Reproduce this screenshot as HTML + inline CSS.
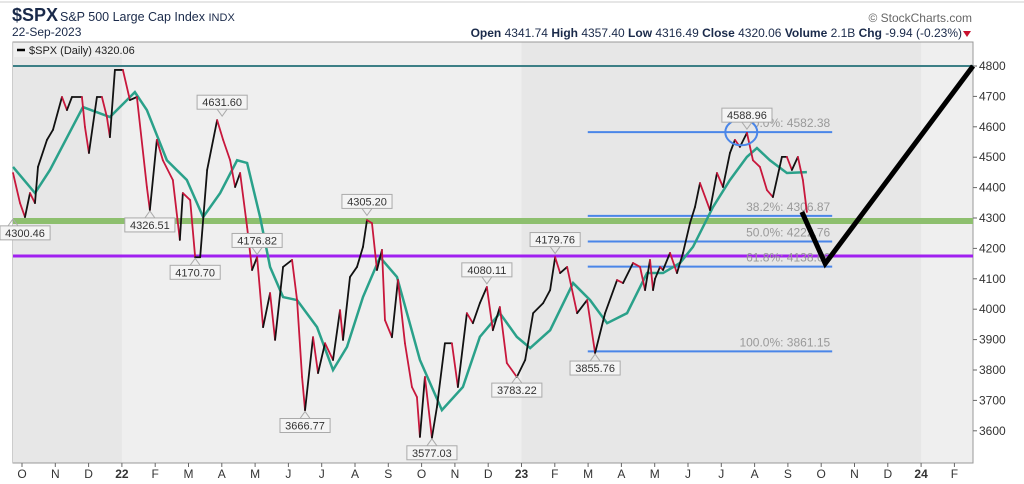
<!DOCTYPE html>
<html><head><meta charset="utf-8"><style>
html,body{margin:0;padding:0;background:#fff;width:1024px;height:484px;overflow:hidden}
svg{display:block;font-family:"Liberation Sans",sans-serif}
</style></head><body>
<svg id="c" width="1024" height="484">
<rect x="0" y="0" width="1024" height="484" fill="#fff"/>
<line x1="0" y1="2" x2="1024" y2="2" stroke="#ccc"/>
<text x="12" y="21" font-size="18" font-weight="bold" fill="#1a2a4a">$SPX</text>
<text x="60" y="21" font-size="12.5" fill="#1a2a4a">S&amp;P 500 Large Cap Index <tspan font-size="11">INDX</tspan></text>
<text x="12" y="36" font-size="12" fill="#1a2a4a">22-Sep-2023</text>
<text x="972" y="22" font-size="12" fill="#666" text-anchor="end">© StockCharts.com</text>
<text x="962" y="37" font-size="12" fill="#1a2a4a" text-anchor="end"><tspan font-weight="bold">Open</tspan> 4341.74 <tspan font-weight="bold">High</tspan> 4357.40 <tspan font-weight="bold">Low</tspan> 4316.49 <tspan font-weight="bold">Close</tspan> 4320.06 <tspan font-weight="bold">Volume</tspan> 2.1B <tspan font-weight="bold">Chg</tspan> -9.94 (-0.23%)</text>
<path d="M963 31 L971 31 L967 37 Z" fill="#c8102e"/>
<g id="plot"></g>
</svg>
<script>
const monthLabels=["O","N","D","22","F","M","A","M","J","J","A","S","O","N","D","23","F","M","A","M","J","J","A","S","O","N","D","24","F"];
const yTicks=[3600,3700,3800,3900,4000,4100,4200,4300,4400,4500,4600,4700,4800];
const priceMonths=[-0.27,-0.06,0.09,0.24,0.39,0.48,0.75,0.93,1.20,1.35,1.50,1.80,1.89,2.01,2.25,2.40,2.55,2.64,2.79,3.03,3.24,3.45,3.75,3.84,4.05,4.23,4.53,4.74,4.83,5.05,5.20,5.35,5.56,5.86,6.04,6.25,6.40,6.55,6.76,6.91,7.06,7.24,7.45,7.60,7.84,8.11,8.26,8.41,8.50,8.74,8.89,9.10,9.34,9.55,9.64,9.85,10.06,10.24,10.36,10.51,10.66,10.81,10.90,11.11,11.29,11.50,11.71,11.86,11.95,12.10,12.31,12.46,12.70,12.91,13.09,13.36,13.54,13.75,13.96,14.14,14.35,14.56,14.86,15.11,15.35,15.65,15.86,16.01,16.16,16.37,16.67,16.97,17.21,17.51,17.87,18.05,18.35,18.56,18.71,18.86,18.95,19.01,19.16,19.25,19.46,19.67,19.85,20.06,20.21,20.36,20.66,20.87,21.05,21.26,21.41,21.56,21.77,21.95,22.16,22.37,22.55,22.82,22.97,23.12,23.30,23.45,23.57];
const priceCloses=[4448,4349,4303,4382,4349,4468,4557,4590,4698,4655,4698,4698,4600,4514,4698,4698,4632,4566,4787,4787,4688,4698,4402,4326,4557,4490,4425,4228,4382,4359,4171,4171,4458,4622,4557,4490,4402,4448,4270,4129,4171,3941,4053,3899,4139,4162,4030,3777,3668,3908,3790,3888,3833,3997,3899,4106,4139,4205,4293,4283,4129,4195,3964,3908,4096,3888,3744,3711,3580,3777,3577,3678,3888,3888,3744,3987,3954,4020,4073,3931,4007,3823,3777,3833,3987,4020,4063,4171,4119,4139,3987,4030,3856,3987,4096,4086,4152,4139,4063,4162,4063,4100,4139,4129,4185,4119,4185,4283,4336,4415,4326,4448,4402,4514,4557,4534,4580,4490,4468,4392,4369,4501,4501,4458,4501,4425,4320];
const maMonths=[-0.27,0.39,0.84,1.83,2.64,3.39,3.75,4.35,4.95,5.44,5.95,6.46,6.76,7.15,7.45,7.84,8.26,8.86,9.34,9.76,10.24,10.75,11.26,11.95,12.61,13.24,13.75,14.35,14.86,15.26,15.86,16.55,17.06,17.57,18.17,18.77,19.25,19.76,20.15,20.75,21.26,21.77,22.07,22.46,22.97,23.57];
const maValues=[4468,4382,4458,4665,4632,4714,4655,4490,4425,4303,4382,4490,4481,4303,4139,4040,4030,3941,3800,3876,4040,4171,4106,3833,3668,3744,3909,3987,3909,3872,3931,4086,4030,3954,3987,4119,4119,4152,4205,4336,4425,4501,4530,4490,4448,4451];
const labelMonths=[-0.27,3.84,5.20,6.01,7.06,8.50,10.36,12.31,13.96,14.86,16.01,17.21,21.77];
const labelPrices=[4300.46,4326.51,4170.70,4631.60,4176.82,3666.77,4305.20,3577.03,4080.11,3783.22,4179.76,3855.76,4588.96];
const labelAbove=[0,0,0,1,1,0,1,0,1,0,1,0,1];
const fibLevels=[4582.38,4306.87,4222.76,4140.00,3861.15];
const fibNames=["0.0%: 4582.38","38.2%: 4306.87","50.0%: 4222.76","61.8%: 4138.66","100.0%: 3861.15"];
const fibStartMonth=16.99, fibEndMonth=24.33;
const hLineLevels=[4800,4290,4175];
const projMonths=[23.42,24.12,28.56];
const projPrices=[4320,4150,4800];

const NS="http://www.w3.org/2000/svg";
const L=13,R=973,T=42,B=463;
const x=m=>22+m*33.3;
const y=v=>66+(4800-v)*0.304;
const g=document.getElementById('plot');
function mk(t,a,p){const e=document.createElementNS(NS,t);for(const k in a)e.setAttribute(k,a[k]);(p||g).appendChild(e);return e;}

// backgrounds
let e=mk('rect',{x:L,y:T,width:R-L,height:B-T,fill:'#efefef',stroke:'#999'});

e=mk('rect',{x:L,y:T+0.5,width:x(3)-L,height:B-T-1,fill:'#e7e7e7'});

e=mk('rect',{x:x(15),y:T+0.5,width:x(27)-x(15),height:B-T-1,fill:'#e7e7e7'});


// horizontal lines
const hColors=['#3c7f86','#8dbf6e','#a020f0'],hW=[2,6,3],hNames=['resistance-line-4800','support-line-green','support-line-purple'];
hLineLevels.forEach((v,i)=>{const l=mk('line',{x1:L,x2:R,y1:y(v),y2:y(v),stroke:hColors[i],'stroke-width':hW[i]});
});

// fib lines
fibLevels.forEach((v,i)=>{const l=mk('line',{x1:x(fibStartMonth),x2:x(fibEndMonth),y1:y(v),y2:y(v),stroke:'#4a86e8','stroke-width':2});

const t=mk('text',{x:x(fibEndMonth)-2,y:y(v)-5,'font-size':12,fill:'#999','text-anchor':'end'});t.textContent=fibNames[i];
});

// MA
e=mk('polyline',{points:maMonths.map((m,i)=>x(m)+','+y(maValues[i])).join(' '),fill:'none',stroke:'#2aa18a','stroke-width':2.5});


// price
for(let i=1;i<priceMonths.length;i++){
 const up=priceCloses[i]>=priceCloses[i-1];
 const l=mk('line',{x1:x(priceMonths[i-1]),y1:y(priceCloses[i-1]),x2:x(priceMonths[i]),y2:y(priceCloses[i]),stroke:up?'#111':'#c8173c','stroke-width':1.8,'stroke-linecap':'round'});
 
}

// projection
e=mk('polyline',{points:projMonths.map((m,i)=>x(m)+','+y(projPrices[i])).join(' '),fill:'none',stroke:'#000','stroke-width':5,'stroke-linejoin':'miter'});


// circle on top
e=mk('ellipse',{cx:x(21.6),cy:y(4582),rx:16,ry:13,fill:'none',stroke:'#4a86e8','stroke-width':2});


// labels
labelMonths.forEach((m,i)=>{
 const px=x(m),py=y(labelPrices[i]),up=labelAbove[i];
 const txt=labelPrices[i].toFixed(2),w=txt.length*6.3+6;
 let bx=px-w/2; if(bx<0)bx=0;
 const by=up?py-22:py+8;
 const gg=mk('g',{});
 
 mk('path',{d:up?`M${px-5} ${by+14} L${px} ${py-1} L${px+5} ${by+14}`:`M${px-5} ${by} L${px} ${py+1} L${px+5} ${by}`,fill:'none',stroke:'#aaa'},gg);
 mk('rect',{x:bx,y:by,width:w,height:14,fill:'#f4f4f4',stroke:'#aaa'},gg);
 const t=mk('text',{x:bx+w/2,y:by+11,'font-size':11,fill:'#333','text-anchor':'middle'},gg);t.textContent=txt;
});

// legend
e=mk('rect',{x:L+1,y:T+1,width:120,height:14,fill:'#efefef'});
e=mk('line',{x1:17,x2:25,y1:50,y2:50,stroke:'#000','stroke-width':2.5});

e=mk('text',{x:29,y:54,'font-size':11,fill:'#222'});e.textContent='$SPX (Daily) 4320.06';


// y axis
yTicks.forEach(v=>{const l=mk('line',{x1:R,x2:R+4,y1:y(v),y2:y(v),stroke:'#666'});

const t=mk('text',{x:R+6,y:y(v)+4,'font-size':12,fill:'#333'});t.textContent=v;
});

// x axis
monthLabels.forEach((s,i)=>{const t=mk('text',{x:x(i),y:478,'font-size':12,fill:'#333','text-anchor':'middle','font-weight':/\d/.test(s)?'bold':'normal'});t.textContent=s;

const l=mk('line',{x1:x(i),x2:x(i),y1:B,y2:B+4,stroke:'#666'});
});
</script>
</body></html>
